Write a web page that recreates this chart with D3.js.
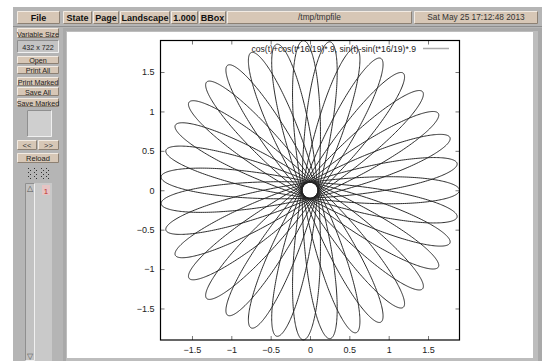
<!DOCTYPE html>
<html><head><meta charset="utf-8">
<script src="https://cdn.jsdelivr.net/npm/d3@7"></script>
<style>
html,body{margin:0;padding:0;background:#fff;}
svg{display:block;}
text{font-family:"Liberation Sans",Arial,sans-serif;}
</style></head>
<body>
<svg id="c" width="542" height="361"></svg>
<script>
// ---- data ----
const legendLabel = ["cos(t)+cos(t*16/19)*.9, sin(t)-sin(t*16/19)*.9"];
const freqRatio = [16, 19];      // t*16/19
const amplitude = [0.9];         // *.9
const xDomain = [-1.9, 1.9];
const yDomain = [-1.9, 1.9];
const xTicks = [-1.5, -1, -0.5, 0, 0.5, 1, 1.5];
const yTicks = [-1.5, -1, -0.5, 0, 0.5, 1, 1.5];
const topButtons = ["File", "State", "Page", "Landscape", "1.000", "BBox"];
const topFields = ["/tmp/tmpfile", "Sat May 25 17:12:48 2013"];
const sideButtons = ["Variable Size", "Open", "Print All", "Print Marked", "Save All", "Save Marked"];
const sizeLabel = ["432 x 722"];
const pageLabels = ["1"];

const svg = d3.select("#c");
const BG = "#b5b5b5", BEIGE = "#d7c7b6";

function bevel(g, x, y, w, h, fill, inset) {
  g.append("rect").attr("x", x).attr("y", y).attr("width", w).attr("height", h).attr("fill", fill);
  const lt = inset ? "#8f8f8f" : "#f2ebe3", dk = inset ? "#f0f0f0" : "#8c8073";
  g.append("path").attr("d", `M${x+0.5},${y+h-0.5}V${y+0.5}H${x+w-0.5}`).attr("stroke", lt).attr("fill", "none");
  g.append("path").attr("d", `M${x+0.5},${y+h-0.5}H${x+w-0.5}V${y+0.5}`).attr("stroke", dk).attr("fill", "none");
}

// window background
svg.append("rect").attr("x", 13).attr("y", 7).attr("width", 529).attr("height", 354).attr("fill", BG);

// top bar
const ui = svg.append("g");
const tbX = [17, 63, 93, 120, 171, 199];
const tbW = [43, 29, 26, 50, 27, 27];
topButtons.forEach((b, i) => {
  bevel(ui, tbX[i], 11, tbW[i], 13, BEIGE, false);
  ui.append("text").attr("x", tbX[i] + tbW[i] / 2).attr("y", 20.5).attr("text-anchor", "middle")
    .attr("font-size", 9).attr("font-weight", "bold").attr("fill", "#111").text(b);
});
const fX = [227, 414], fW = [185, 124];
topFields.forEach((f, i) => {
  bevel(ui, fX[i], 11, fW[i], 13, BEIGE, false);
  ui.append("text").attr("x", fX[i] + fW[i] / 2).attr("y", 20).attr("text-anchor", "middle")
    .attr("font-size", 8.3).attr("fill", "#333").text(f);
});
ui.append("line").attr("x1", 13).attr("x2", 542).attr("y1", 26.5).attr("y2", 26.5).attr("stroke", "#8e8e8e");

// side panel
const sbY = [28, 56, 66, 77, 87, 98];
const sbH = [10, 8, 8, 9, 9, 9];
sideButtons.forEach((b, i) => {
  bevel(ui, 17, sbY[i], 42, sbH[i], BEIGE, false);
  ui.append("text").attr("x", 38).attr("y", sbY[i] + sbH[i] - 1.5).attr("text-anchor", "middle")
    .attr("font-size", 7.2).attr("fill", "#222").text(b);
});
bevel(ui, 17, 40, 42, 13, "#c4c4c4", true);
ui.append("text").attr("x", 38).attr("y", 49.5).attr("text-anchor", "middle").attr("font-size", 7.2).attr("fill", "#222").text(sizeLabel[0]);
bevel(ui, 27, 110, 25, 27, "#cfcfcf", true);
bevel(ui, 17, 140, 20, 10, BEIGE, false);
bevel(ui, 38, 140, 21, 10, BEIGE, false);
ui.append("text").attr("x", 27).attr("y", 148).attr("text-anchor", "middle").attr("font-size", 7.5).attr("fill", "#333").text("<<");
ui.append("text").attr("x", 48.5).attr("y", 148).attr("text-anchor", "middle").attr("font-size", 7.5).attr("fill", "#333").text(">>");
bevel(ui, 17, 153, 42, 10, BEIGE, false);
ui.append("text").attr("x", 38).attr("y", 161).attr("text-anchor", "middle").attr("font-size", 7.5).attr("fill", "#222").text("Reload");
// dotted glyph icons
const ig = ui.append("g");
[28, 34, 41, 46].forEach(x0 => {
  for (let r = 0; r < 6; r++) for (let c = 0; c < 2; c++) {
    if ((r + c) % 2 === 0) ig.append("rect").attr("x", x0 + c * 2).attr("y", 168 + r * 2).attr("width", 1).attr("height", 1).attr("fill", "#333");
  }
});
// page list column + scrollbar
ui.append("rect").attr("x", 35).attr("y", 183).attr("width", 17).attr("height", 178).attr("fill", "#c9c9c9");
bevel(ui, 25, 183, 10, 178, "#c2c2c2", true);
ui.append("text").attr("x", 30).attr("y", 191).attr("text-anchor", "middle").attr("font-size", 8).attr("fill", "#555").text("△");
ui.append("text").attr("x", 30).attr("y", 359).attr("text-anchor", "middle").attr("font-size", 8).attr("fill", "#555").text("▽");
ui.append("rect").attr("x", 42).attr("y", 185).attr("width", 8).attr("height", 10).attr("fill", "#e6c4c4");
ui.append("text").attr("x", 46).attr("y", 193.5).attr("text-anchor", "middle").attr("font-size", 8).attr("fill", "#c03030").text(pageLabels[0]);

// main view area
ui.append("rect").attr("x", 63).attr("y", 28).attr("width", 479).attr("height", 333).attr("fill", "#a9a9a9");
ui.append("rect").attr("x", 66).attr("y", 31).attr("width", 472).attr("height", 330).attr("fill", "#bdbdbd");
ui.append("rect").attr("x", 67).attr("y", 32).attr("width", 466).attr("height", 326).attr("fill", "#ffffff");

// ---- plot ----
const x = d3.scaleLinear().domain(xDomain).range([160.5, 459.5]);
const y = d3.scaleLinear().domain(yDomain).range([340, 40.5]);
const plot = svg.append("g");

const k = freqRatio[0] / freqRatio[1], a = amplitude[0];
const N = 6000, T = 2 * Math.PI * freqRatio[1];
const pts = d3.range(N + 1).map(i => {
  const t = T * i / N;
  return [Math.cos(t) + Math.cos(t * k) * a, Math.sin(t) - Math.sin(t * k) * a];
});
plot.append("path").datum(pts)
  .attr("d", d3.line().x(d => x(d[0])).y(d => y(d[1])))
  .attr("fill", "none").attr("stroke", "#222").attr("stroke-width", 0.95);

// axes with inward ticks, mirrored
const tickLen = 4;
const axB = plot.append("g").attr("transform", `translate(0,${y.range()[0]})`)
  .call(d3.axisBottom(x).tickValues(xTicks).tickSize(-tickLen).tickPadding(7).tickFormat(d3.format("")));
const axT = plot.append("g").attr("transform", `translate(0,${y.range()[1]})`)
  .call(d3.axisTop(x).tickValues(xTicks).tickSize(-tickLen).tickFormat(""));
const axL = plot.append("g").attr("transform", `translate(${x.range()[0]},0)`)
  .call(d3.axisLeft(y).tickValues(yTicks).tickSize(-tickLen).tickPadding(6).tickFormat(d3.format("")));
const axR = plot.append("g").attr("transform", `translate(${x.range()[1]},0)`)
  .call(d3.axisRight(y).tickValues(yTicks).tickSize(-tickLen).tickFormat(""));
[axB, axT, axL, axR].forEach(g => {
  g.select(".domain").remove();
  g.selectAll(".tick line").attr("stroke", "#777");
  g.selectAll(".tick text").attr("font-family", "Liberation Sans, Arial, sans-serif").attr("font-size", 9).attr("fill", "#222");
});

// frame
plot.append("rect").attr("x", x.range()[0]).attr("y", y.range()[1])
  .attr("width", x.range()[1] - x.range()[0]).attr("height", y.range()[0] - y.range()[1])
  .attr("fill", "none").attr("stroke", "#000").attr("stroke-width", 1.2);

// legend
plot.append("text").attr("x", 416).attr("y", 51.5).attr("text-anchor", "end")
  .attr("font-size", 8.6).attr("fill", "#222").text(legendLabel[0]);
plot.append("line").attr("x1", 423).attr("x2", 449).attr("y1", 48.5).attr("y2", 48.5)
  .attr("stroke", "#aaa").attr("stroke-width", 1.5);
</script>
</body></html>
